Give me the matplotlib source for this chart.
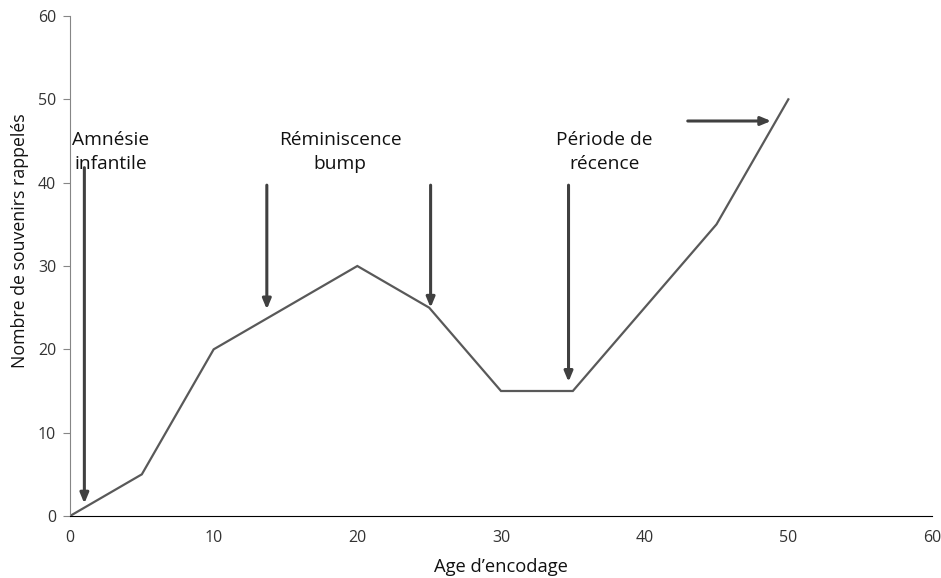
import matplotlib
matplotlib.use("Agg")
import matplotlib.pyplot as plt

# Data
ages = [0, 5, 10, 20, 25, 30, 35, 45, 50]
souvenirs = [0, 5, 20, 30, 25, 15, 15, 35, 50]

# Annotation labels (text, x, y)
labels = ["Amnésie\ninfantile", "Réminiscence\nbump", "Période de\nrécence"]
label_x = [2.85, 18.8, 37.2]
label_y = [43.7, 43.7, 43.7]

# Arrows (start -> end), in data units
arrow_start = [(1.0, 41.8), (13.7, 39.7), (25.1, 39.7), (34.7, 39.7), (43.0, 47.4)]
arrow_end = [(1.0, 1.5), (13.7, 24.8), (25.1, 25.0), (34.7, 16.1), (48.8, 47.4)]

plt.rcParams['font.family'] = ['Open Sans', 'DejaVu Sans']

fig = plt.figure(figsize=(9.41, 5.78), dpi=100)
ax = fig.add_axes([70/941, 62/578, (932-70)/941, (516-16)/578])

ax.plot(ages, souvenirs, color='#595959', lw=1.6, solid_joinstyle='miter')

for (x0, y0), (x1, y1) in zip(arrow_start, arrow_end):
    ax.annotate("", xy=(x1, y1), xytext=(x0, y0),
                arrowprops=dict(arrowstyle='-|>,head_length=0.6,head_width=0.25',
                                color='#404040', lw=2.2, shrinkA=0, shrinkB=0))

for txt, x, y in zip(labels, label_x, label_y):
    ax.text(x, y, txt, ha='center', va='center', fontsize=13.8,
            color='#111111', linespacing=1.45)

ax.set_xlim(0, 60)
ax.set_ylim(0, 60)
ax.set_xticks(range(0, 61, 10))
ax.set_yticks(range(0, 61, 10))

for s in ['top', 'right']:
    ax.spines[s].set_visible(False)
ax.spines['left'].set_color('#868686')
ax.spines['bottom'].set_color('#000000')
ax.tick_params(axis='x', length=0, pad=10, labelsize=11.5, labelcolor='#333333')
ax.tick_params(axis='y', length=5, color='#868686', pad=5, labelsize=11.5,
               labelcolor='#333333')

ax.set_xlabel("Age d\u2019encodage", fontsize=13.2, color='#111111', labelpad=9)
ax.set_ylabel("Nombre de souvenirs rappelés", fontsize=12.8, color='#111111')
ax.yaxis.set_label_coords(-0.048, 0.55)

fig.savefig("out.png", dpi=100)
